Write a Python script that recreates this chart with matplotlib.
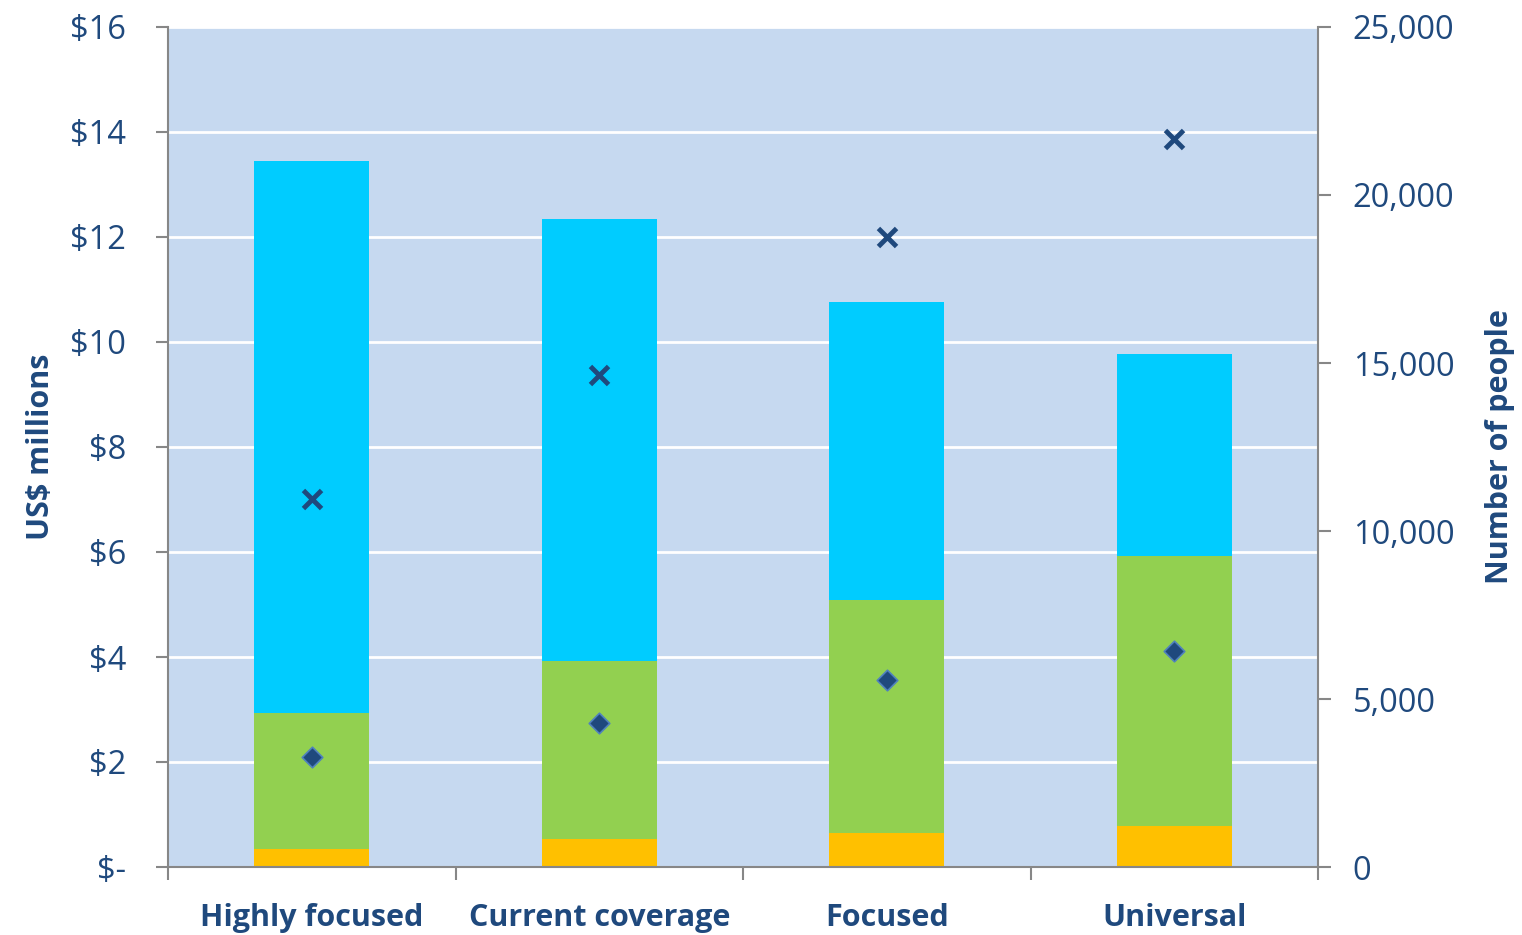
import matplotlib
matplotlib.use("Agg")
import matplotlib.pyplot as plt
import numpy as np

categories = ["Highly focused", "Current coverage", "Focused", "Universal"]
orange_vals = [0.34, 0.53, 0.65, 0.78]          # US$ millions
green_vals = [2.59, 3.39, 4.44, 5.14]
cyan_vals = [10.52, 8.42, 5.67, 3.85]
diamond_people = [3280, 4290, 5570, 6430]        # number of people
cross_people = [10950, 14640, 18750, 21670]

left_ticks = [0, 2, 4, 6, 8, 10, 12, 14, 16]
left_labels = ["$-", "$2", "$4", "$6", "$8", "$10", "$12", "$14", "$16"]
right_ticks = [0, 5000, 10000, 15000, 20000, 25000]
right_labels = ["0", "5,000", "10,000", "15,000", "20,000", "25,000"]

txt = "#1F497D"
axc = "#878787"
plt.rcParams['font.family'] = ['Open Sans', 'DejaVu Sans']

fig = plt.figure(figsize=(15.22, 9.35), dpi=100)
ax = fig.add_axes([168/1522, 68/935, (1318-168)/1522, (867-27)/935])
ax.set_facecolor("#C6D9F0")
x = np.arange(len(categories)) + 0.5
w = 0.4
o = np.array(orange_vals); g = np.array(green_vals); c = np.array(cyan_vals)
ax.bar(x, o, w, color="#FFC000", zorder=2)
ax.bar(x, g, w, bottom=o, color="#92D050", zorder=2)
ax.bar(x, c, w, bottom=o + g, color="#00CCFF", zorder=2)
ax.set_ylim(0, 16)
ax.set_xlim(0, len(categories))
ax.set_yticks(left_ticks)
ax.set_yticklabels(left_labels)
ax.grid(axis="y", color="white", linewidth=2, zorder=1)
ax.set_axisbelow(True)
ax.set_xticks(np.arange(len(categories) + 1))
ax.set_xticklabels([])
ax.set_xticks(x, minor=True)
ax.set_xticklabels(categories, minor=True, fontsize=22, fontweight="bold", color=txt)
ax.tick_params(axis="x", which="minor", length=0, pad=26)
ax.tick_params(axis="x", which="major", length=9, width=1.5, color=axc, direction="out")
ax.tick_params(axis="y", length=9, width=1.5, color=axc, labelsize=23.5, labelcolor=txt, pad=21)
for lab in ax.get_yticklabels():
    lab.set_horizontalalignment("right")
for s in ["top", "right"]:
    ax.spines[s].set_visible(False)
for s in ["left", "bottom"]:
    ax.spines[s].set_color(axc)
    ax.spines[s].set_linewidth(1.5)
ax.set_ylabel("US$ millions", fontsize=22, fontweight="bold", color=txt, labelpad=10)

ax2 = ax.twinx()
ax2.set_ylim(0, 25000)
ax2.set_yticks(right_ticks)
ax2.set_yticklabels(right_labels)
ax2.tick_params(axis="y", length=9, width=1.5, color=axc, labelsize=23.5, labelcolor=txt, pad=16)
for s in ["top", "left", "bottom"]:
    ax2.spines[s].set_visible(False)
ax2.spines["right"].set_color(axc)
ax2.spines["right"].set_linewidth(1.5)
ax2.scatter(x, diamond_people, marker="D", s=110, color="#1F497D", edgecolor="#4F81BD", linewidth=1.2, zorder=5)
ax2.scatter(x, cross_people, marker="x", s=170, color="#1F497D", linewidth=3.5, zorder=5)
ax2.set_ylabel("Number of people", fontsize=22, fontweight="bold", color=txt, labelpad=22)

fig.savefig("out.png", dpi=100)
